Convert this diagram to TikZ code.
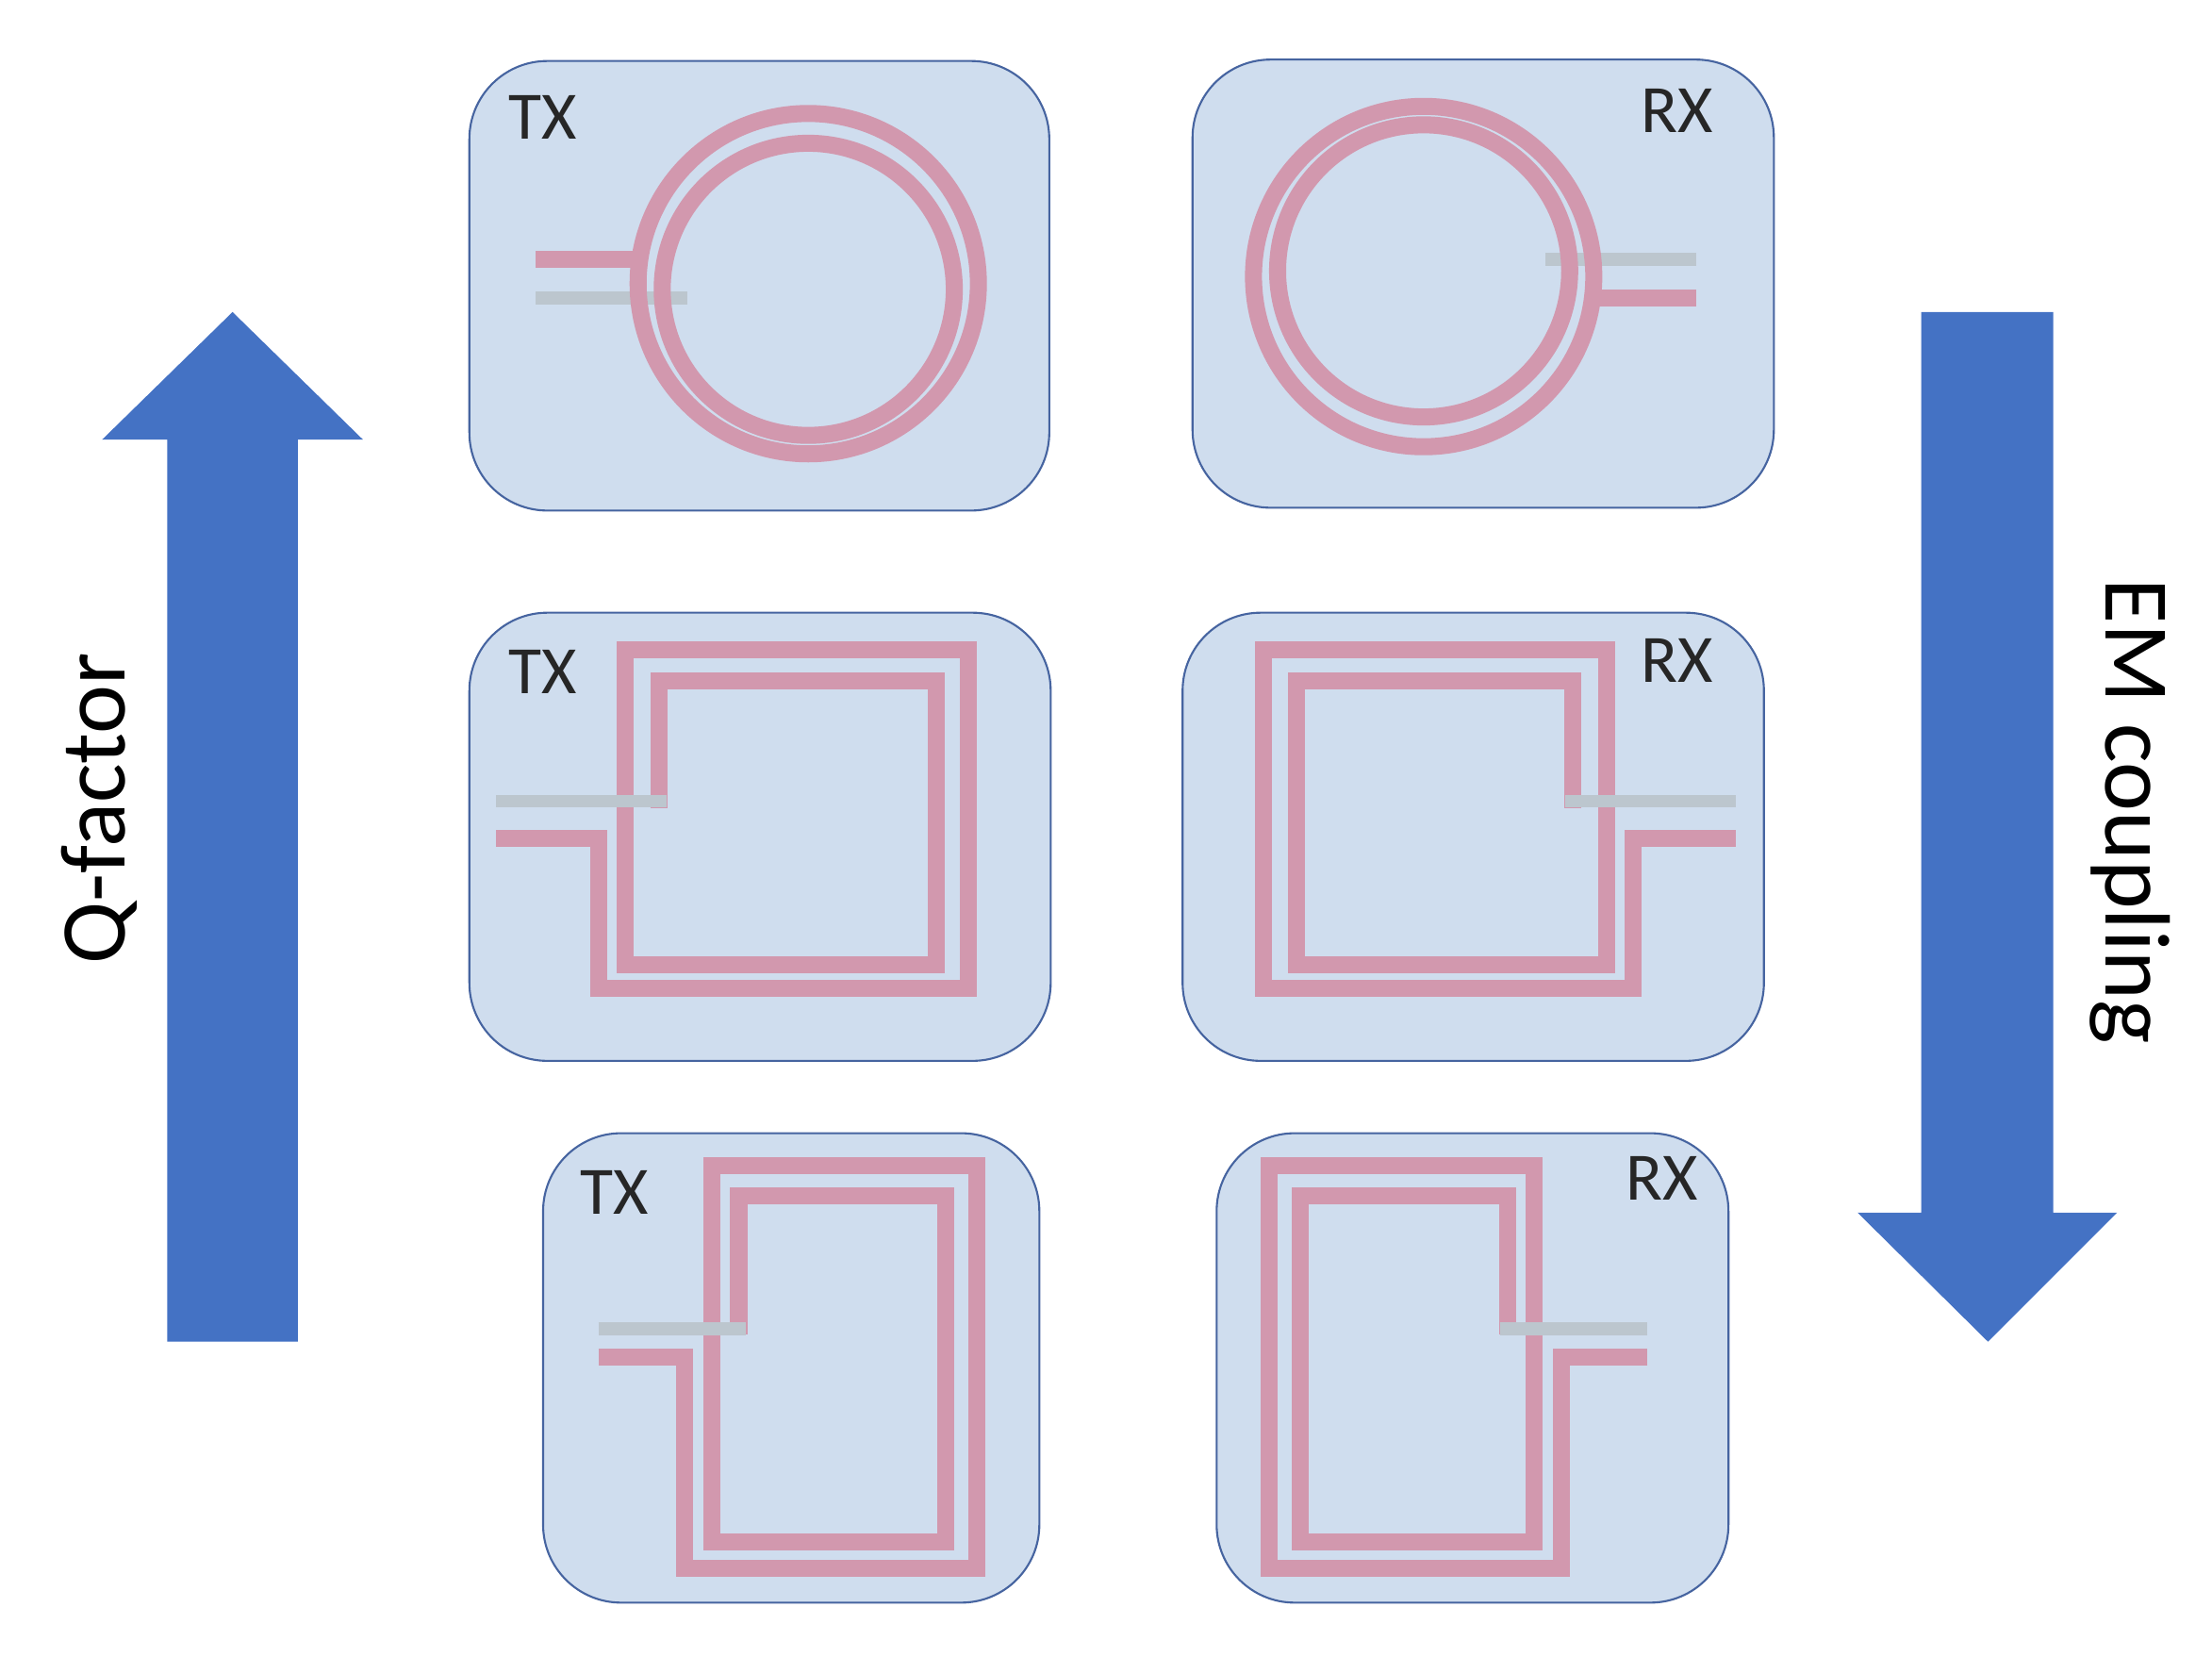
\documentclass[tikz,border=0pt]{standalone}
\usepackage{fontspec}
\setmainfont{Carlito}
\definecolor{boxfill}{RGB}{207,221,238}
\definecolor{boxline}{RGB}{70,100,160}
\definecolor{trace}{RGB}{210,152,174}
\definecolor{under}{RGB}{188,198,206}
\definecolor{arrowblue}{RGB}{68,114,196}
\tikzset{
  coilbox/.style={draw=boxline,line width=0.07cm,fill=boxfill,rounded corners=2.75cm,inner sep=0pt},
  lbl/.style={font=\fontsize{68}{68}\selectfont,text=black!85,inner sep=0pt},
  big/.style={font=\fontsize{93}{93}\selectfont,inner sep=0pt},
  coil/.style={draw=trace,line width=0.6cm},
  lead/.style={draw=under,line width=0.45cm},
  bigarrow/.style={fill=arrowblue,draw=none}
}
\begin{document}
\begin{tikzpicture}[x=0.05cm,y=-0.05cm]
\useasboundingbox (0,0) rectangle (1560,1168);
% boxes
\node[coilbox,minimum width=20.45cm,minimum height=15.85cm] (b1) at (535.5,201.5) {};
\node[coilbox,minimum width=20.5cm,minimum height=15.8cm] (b2) at (1046,200) {};
\node[coilbox,minimum width=20.5cm,minimum height=15.8cm] (b3) at (536,590) {};
\node[coilbox,minimum width=20.5cm,minimum height=15.8cm] (b4) at (1039,590) {};
\node[coilbox,minimum width=17.5cm,minimum height=16.55cm] (b5) at (558,964.5) {};
\node[coilbox,minimum width=18.05cm,minimum height=16.55cm] (b6) at (1038.5,964.5) {};
% labels
\node[lbl] (t1) at (383,83) {TX};
\node[lbl] (r1) at (1183,78) {RX};
\node[lbl] (t2) at (383,474) {TX};
\node[lbl] (r2) at (1183,466) {RX};
\node[lbl] (t3) at (433,841) {TX};
\node[lbl] (r3) at (1172,831) {RX};
% row 1 circles
\draw[lead] (378,210) -- (485,210);
\draw[coil] (570,200) circle (120);
\draw[coil] (570,204) circle (103);
\draw[coil] (378,183) -- (446,183);
\draw[lead] (1090,183) -- (1196,183);
\draw[coil] (1004,195) circle (120);
\draw[coil] (1004,191) circle (103);
\draw[coil] (1128,210) -- (1196,210);
% row 2 squares
\draw[coil] (350,591) -| (422,697) -| (683,458) -| (441,680) -| (660,480) -| (465,570);
\draw[lead] (350,565) -- (470,565);
\draw[coil] (1224,591) -| (1152,697) -| (891,458) -| (1133,680) -| (914,480) -| (1109,570);
\draw[lead] (1224,565) -- (1104,565);
% row 3 rectangles
\draw[coil] (422,957) -| (483,1106) -| (689,822) -| (502,1087) -| (667,843) -| (521,941);
\draw[lead] (422,937) -- (526,937);
\draw[coil] (1162,957) -| (1101,1106) -| (895,822) -| (1082,1087) -| (917,843) -| (1063,941);
\draw[lead] (1162,937) -- (1058,937);
% arrows
\path[bigarrow] (118,946) -- (118,310) -- (72,310) -- (164,220) -- (256,310) -- (210,310) -- (210,946) -- cycle;
\path[bigarrow] (1355,220) -- (1448,220) -- (1448,855) -- (1493,855) -- (1402,946) -- (1310,855) -- (1355,855) -- cycle;
\node[big,rotate=90] (q) at (70,570) {Q-factor};
\node[big,rotate=-90] (em) at (1502,572) {EM coupling};
\end{tikzpicture}
\end{document}
